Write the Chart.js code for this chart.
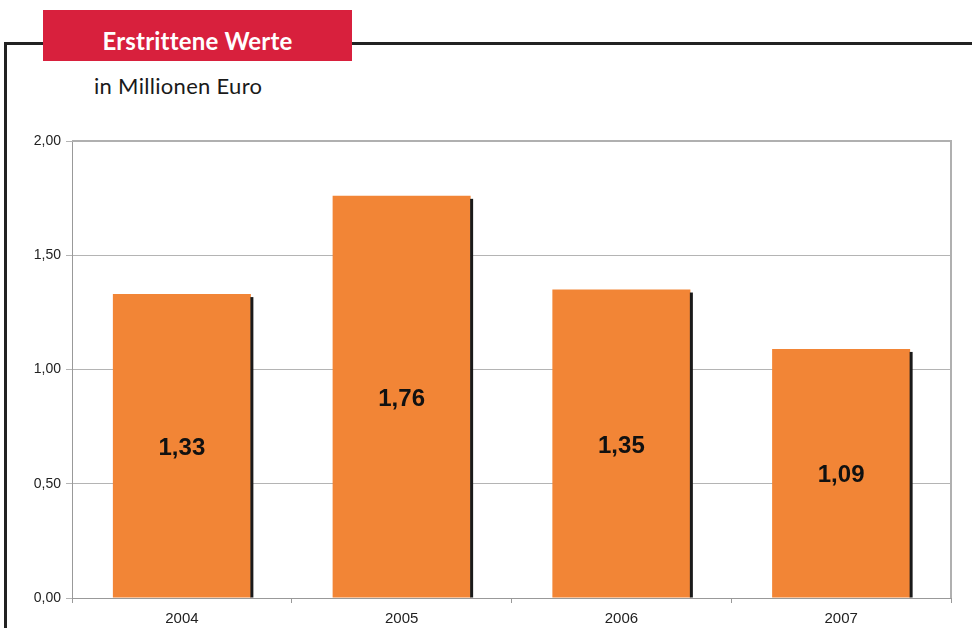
<!DOCTYPE html>
<html><head><meta charset="utf-8">
<script src="https://cdn.jsdelivr.net/npm/chart.js@4.4.1/dist/chart.umd.min.js"></script>
<style>
html,body{margin:0;padding:0;background:#fff;width:972px;height:628px;overflow:hidden;}
#wrap{position:relative;width:972px;height:628px;}
#frameTop{position:absolute;left:4px;top:42px;width:968px;height:3px;background:#222;}
#frameLeft{position:absolute;left:4px;top:42px;width:3px;height:586px;background:#222;}
#titleBox{position:absolute;left:43px;top:10px;width:309px;height:51px;background:#D8203D;}
#title{position:absolute;left:43px;top:15px;width:309px;height:51px;line-height:51px;text-align:center;color:#fff;font-family:Lato,sans-serif;font-weight:bold;font-size:24px;letter-spacing:0.2px;}
#sub{position:absolute;left:94px;top:72px;font-family:Lato,sans-serif;font-size:22px;letter-spacing:0.3px;color:#1a1a1a;}
canvas{position:absolute;left:0;top:0;}
</style></head>
<body><div id="wrap">
<div id="frameTop"></div><div id="frameLeft"></div>
<div id="titleBox"></div><div id="title">Erstrittene Werte</div>
<div id="sub">in Millionen Euro</div>
<canvas id="c" width="972" height="628"></canvas>
</div>
<script>
const categories = ["2004", "2005", "2006", "2007"];
const values = [1.33, 1.76, 1.35, 1.09];
const yTicks = [0, 0.5, 1.0, 1.5, 2.0];

const fmt = v => v.toFixed(2).replace('.', ',');

const decor = {
  id: 'decor',
  afterDatasetsDraw(chart) {
    const ctx = chart.ctx;
    const meta = chart.getDatasetMeta(0);
    ctx.save();
    meta.data.forEach((bar, i) => {
      const p = bar.getProps(['x','y','base','width'], true);
      ctx.fillStyle = '#1a1a1a';
      ctx.fillRect(p.x + p.width/2 - 0.5, p.y + 3, 3, p.base - p.y - 3);
      ctx.fillStyle = '#111';
      ctx.font = 'bold 24px "Liberation Sans", Arial, sans-serif';
      ctx.textAlign = 'center';
      ctx.textBaseline = 'alphabetic';
      ctx.fillText(fmt(values[i]), p.x, (p.y + p.base)/2 + 9);
    });
    const a = chart.chartArea;
    ctx.strokeStyle = '#b0b0b0';
    ctx.lineWidth = 2;
    ctx.beginPath();
    ctx.moveTo(a.left, a.top);
    ctx.lineTo(a.right, a.top);
    ctx.lineTo(a.right, a.bottom);
    ctx.stroke();
    ctx.restore();
  }
};

new Chart(document.getElementById('c'), {
  type: 'bar',
  data: {
    labels: categories,
    datasets: [{
      data: values,
      backgroundColor: '#F28536',
      borderWidth: 0,
      barPercentage: 0.628,
      categoryPercentage: 1.0
    }]
  },
  options: {
    responsive: false,
    animation: false,
    devicePixelRatio: 1,
    layout: { padding: { left: 0, right: 21, top: 141, bottom: 0 } },
    plugins: { legend: { display: false }, tooltip: { enabled: false } },
    scales: {
      x: {
        afterFit(s) { s.height = 30; },
        grid: { display: true, drawOnChartArea: false, drawTicks: true, tickLength: 5, color: '#999', offset: true },
        border: { display: true, color: '#999', width: 1 },
        ticks: { color: '#222', font: { family: '"Liberation Sans", Arial, sans-serif', size: 15 }, padding: 7 }
      },
      y: {
        min: 0, max: 2,
        afterFit(s) { s.width = 72; },
        afterBuildTicks(s) { s.ticks = yTicks.map(v => ({ value: v })); },
        grid: { color: '#b4b4b4', lineWidth: 1, drawTicks: true, tickLength: 6 },
        border: { display: true, color: '#999', width: 1 },
        ticks: { color: '#222', font: { family: '"Liberation Sans", Arial, sans-serif', size: 14 }, padding: 5, callback: v => fmt(v) }
      }
    }
  },
  plugins: [decor]
});
</script>
</body></html>
